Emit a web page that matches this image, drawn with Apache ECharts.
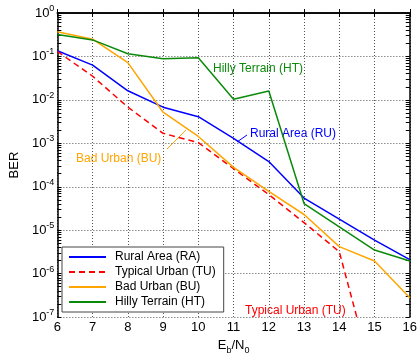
<!DOCTYPE html>
<html>
<head>
<meta charset="utf-8">
<script src="https://cdn.jsdelivr.net/npm/echarts@6/dist/echarts.min.js"></script>
<style>
    html, body { margin: 0; padding: 0; background: #fff; }
    #chart { width: 420px; height: 360px; }
</style>
</head>
<body>
<div id="chart"></div>
<script>
// Eb/N0 in dB
const ebn0 = [6, 7, 8, 9, 10, 11, 12, 13, 14, 15, 16];
const rural = [0.135, 0.063, 0.0162, 0.0068, 0.0041, 0.0013, 0.00038, 5.5e-5, 1.8e-5, 5.9e-6, 2.1e-6];
const typicalUrban = [0.13, 0.035, 0.0068, 0.0017, 0.00104, 2.6e-4, 6.6e-5, 1.5e-5, 3.2e-6, 3e-9, 1e-10];
const badUrban = [0.37, 0.25, 0.072, 0.0052, 0.00144, 2.8e-4, 7.8e-5, 2.3e-5, 4.2e-6, 1.95e-6, 2.8e-7];
const hillyTerrain = [0.32, 0.24, 0.115, 0.089, 0.093, 0.0104, 0.016, 4.1e-5, 1.2e-5, 3.5e-6, 1.95e-6];
const decades = [-7, -6, -5, -4, -3, -2, -1, 0];

const font = 'Liberation Sans, Arial, Helvetica, sans-serif';

// tick positions (log10) for 1..9 in every decade, used by the overlay tick axes
const minorTicks = [];
decades.slice(0, -1).forEach(e => {
    for (let k = 1; k <= 9; k++) {
        minorTicks.push(e + Math.log10(k));
    }
});
minorTicks.push(0);

const pairs = arr => ebn0.map((x, i) => [x, arr[i]]);

const chart = echarts.init(document.getElementById('chart'));

const tickAxis = (position, showLine) => ({
    type: 'value',
    position: position,
    min: decades[0],
    max: decades[decades.length - 1],
    axisLine: { show: showLine, lineStyle: { color: '#000', width: 1.5 } },
    axisTick: {
        show: true,
        inside: true,
        length: 4,
        customValues: minorTicks,
        lineStyle: { color: '#000', width: 1 }
    },
    axisLabel: { show: false },
    splitLine: { show: false }
});

chart.setOption({
    animation: false,
    textStyle: { fontFamily: font },
    grid: { left: 54, right: 9, top: 13, bottom: 34 },
    legend: {
        orient: 'vertical',
        left: 62,
        top: 247,
        backgroundColor: '#fff',
        borderColor: '#444',
        borderWidth: 1,
        borderRadius: 0,
        padding: [4, 8, 4, 6],
        itemWidth: 37,
        itemHeight: 14,
        itemGap: 3,
        itemStyle: { opacity: 0 },
        textStyle: { fontSize: 12, color: '#000', fontFamily: font, padding: [0, 0, 0, 4] },
        data: ['Rural Area (RA)', 'Typical Urban (TU)', 'Bad Urban (BU)', 'Hilly Terrain (HT)']
    },
    xAxis: [
        {
            type: 'value',
            position: 'bottom',
            min: 6,
            max: 16,
            interval: 1,
            name: '{n|E}{s|b}{n|/N}{s|0}',
            nameLocation: 'middle',
            nameGap: 14,
            nameTextStyle: {
                rich: {
                    n: { fontSize: 13, color: '#000', fontFamily: font, lineHeight: 16, verticalAlign: 'top' },
                    s: { fontSize: 9, color: '#000', fontFamily: font, lineHeight: 16, verticalAlign: 'bottom' }
                }
            },
            axisLine: { lineStyle: { color: '#000', width: 1.5 } },
            axisTick: { inside: true, length: 4, lineStyle: { color: '#000' } },
            axisLabel: { fontSize: 13, color: '#000', margin: 4, fontFamily: font },
            splitLine: { show: true, lineStyle: { color: '#555', type: [1, 2], width: 1 } }
        },
        {
            type: 'value',
            position: 'top',
            min: 6,
            max: 16,
            interval: 1,
            axisLine: { lineStyle: { color: '#000', width: 1.5 } },
            axisTick: { inside: true, length: 4, lineStyle: { color: '#000' } },
            axisLabel: { show: false },
            splitLine: { show: false }
        }
    ],
    yAxis: [
        {
            type: 'log',
            position: 'left',
            min: 1e-7,
            max: 1,
            splitNumber: 7,
            name: 'BER',
            nameLocation: 'middle',
            nameGap: 25,
            nameRotate: 90,
            nameTextStyle: { fontSize: 13, color: '#000', fontFamily: font },
            axisLine: { lineStyle: { color: '#000', width: 1.5 } },
            axisTick: { show: false },
            axisLabel: {
                margin: 3,
                formatter: v => '{b|10}{e|' + Math.round(Math.log10(v)) + '}',
                rich: {
                    b: { fontSize: 13, color: '#000', fontFamily: font, lineHeight: 18 },
                    e: { fontSize: 9, color: '#000', fontFamily: font, lineHeight: 9, verticalAlign: 'top' }
                }
            },
            splitLine: { show: true, lineStyle: { color: '#555', type: [1, 2], width: 1 } }
        },
        tickAxis('left', false),
        tickAxis('right', true)
    ],
    series: [
        {
            name: 'Rural Area (RA)',
            type: 'line',
            symbol: 'none',
            data: pairs(rural),
            lineStyle: { color: '#0000ff', width: 1.5 },
            itemStyle: { color: '#0000ff' }
        },
        {
            name: 'Typical Urban (TU)',
            type: 'line',
            symbol: 'none',
            data: pairs(typicalUrban),
            lineStyle: { color: '#ff0000', width: 1.5, type: [6, 4] },
            itemStyle: { color: '#ff0000' }
        },
        {
            name: 'Bad Urban (BU)',
            type: 'line',
            symbol: 'none',
            data: pairs(badUrban),
            lineStyle: { color: '#ffa500', width: 1.5 },
            itemStyle: { color: '#ffa500' }
        },
        {
            name: 'Hilly Terrain (HT)',
            type: 'line',
            symbol: 'none',
            data: pairs(hillyTerrain),
            lineStyle: { color: '#0a8a0a', width: 1.5 },
            itemStyle: { color: '#0a8a0a' }
        }
    ],
    graphic: [
        { type: 'text', left: 213, top: 63, style: { text: 'Hilly Terrain (HT)', fill: '#0a8a0a', font: '12px ' + font } },
        { type: 'text', left: 250, top: 128, style: { text: 'Rural Area (RU)', fill: '#0000ff', font: '12px ' + font } },
        { type: 'line', shape: { x1: 237, y1: 142, x2: 247, y2: 135 }, style: { stroke: '#0000ff', lineWidth: 1 } },
        { type: 'text', left: 76, top: 153, style: { text: 'Bad Urban (BU)', fill: '#ffa500', font: '12px ' + font } },
        { type: 'line', shape: { x1: 167, y1: 149, x2: 186, y2: 130 }, style: { stroke: '#ffa500', lineWidth: 1 } },
        { type: 'text', left: 245, top: 305, style: { text: 'Typical Urban (TU)', fill: '#ff0000', font: '12px ' + font } }
    ]
});
</script>
</body>
</html>
